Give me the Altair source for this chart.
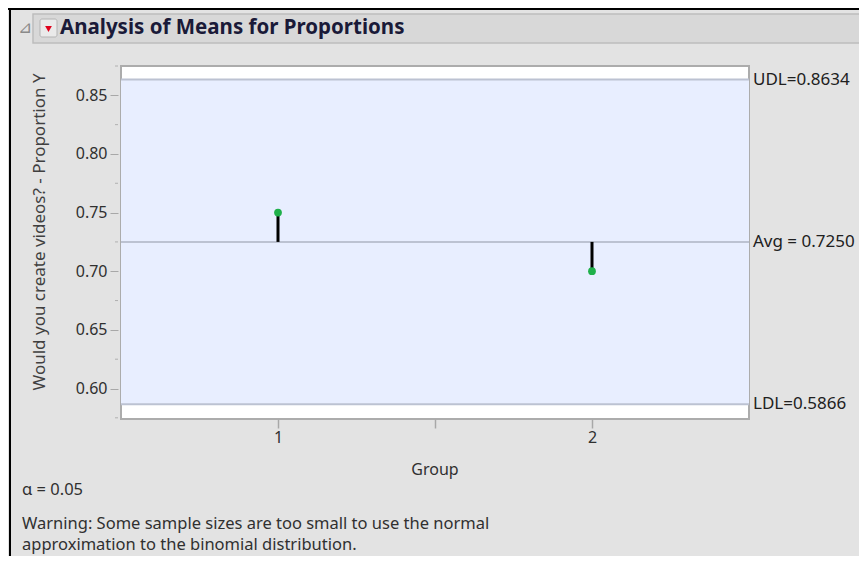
import altair as alt
import pandas as pd

# ---- data ----
groups = [1, 2]
proportions = [0.75, 0.70]
avg_value = 0.7250
udl_value = 0.8634
ldl_value = 0.5866
limit_names = ["UDL=0.8634", "Avg = 0.7250", "LDL=0.5866"]
limit_values = [udl_value, avg_value, ldl_value]
y_major_ticks = [0.60, 0.65, 0.70, 0.75, 0.80, 0.85]
y_minor_ticks = [0.575, 0.625, 0.675, 0.725, 0.775, 0.825, 0.875]
x_tick_values = [1, 1.5, 2]
y_domain = [0.574, 0.875]
x_domain = [0.5, 2.5]

title_text = "Analysis of Means for Proportions"
y_title = "Would you create videos? - Proportion Y"
x_title = "Group"
alpha_text = "\u03b1 = 0.05"
warning_lines = ["Warning: Some sample sizes are too small to use the normal",
                 "approximation to the binomial distribution."]

# ---- layout ----
W, H = 628, 353
PAD_L, PAD_T, PAD_R, PAD_B = 113, 58, 110, 137
FONT = "Noto Sans"
BG = "#e3e3e3"

pts = pd.DataFrame({"group": groups, "prop": proportions, "avg": [avg_value] * len(groups)})
lim = pd.DataFrame({"name": limit_names, "val": limit_values})
band = pd.DataFrame({"lo": [ldl_value], "hi": [udl_value]})
minor = pd.DataFrame({"v": y_minor_ticks})
one = pd.DataFrame({"a": [0]})

xs = alt.Scale(domain=x_domain, nice=False, zero=False)
ys = alt.Scale(domain=y_domain, nice=False, zero=False)

x_axis = alt.Axis(
    values=x_tick_values, title=None, grid=False, domain=False,
    labelExpr="datum.value == 1.5 ? '' : format(datum.value, 'd')",
    tickColor="#a8a8a8", tickWidth=1.5, tickSize=9, labelFontSize=16, labelFont=FONT,
    labelColor="#303030", labelPadding=1, labelBaseline="top",
)
y_axis = alt.Axis(
    values=y_major_ticks, title=None, grid=False, domain=False, offset=3,
    format=".2f", tickSize=8,
    tickColor="#a8a8a8", tickWidth=1, labelFontSize=16, labelFont=FONT,
    labelColor="#303030", labelPadding=3,
)

# header decorations (page chrome)
top_line = alt.Chart(one).mark_rect(color="#000000").encode(
    x=alt.value(-113), x2=alt.value(W + PAD_R), y=alt.value(-58), y2=alt.value(-56))
left_line = alt.Chart(one).mark_rect(color="#000000").encode(
    x=alt.value(-112), x2=alt.value(-110), y=alt.value(-58), y2=alt.value(H + PAD_B))
header = alt.Chart(one).mark_rect(fill="#d8d8d8", stroke="#bdbdbd", strokeWidth=1.5).encode(
    x=alt.value(-88), x2=alt.value(W + PAD_R + 2), y=alt.value(-52), y2=alt.value(-23))
tri = alt.Chart(one).mark_text(text="\u22bf", font="DejaVu Sans", fontSize=17,
                               color="#8a8a8a", align="center", baseline="middle").encode(
    x=alt.value(-96), y=alt.value(-38))
btn = alt.Chart(one).mark_rect(fill="#eaeaea", stroke="#b4b4b4", strokeWidth=1,
                               cornerRadius=2).encode(
    x=alt.value(-81), x2=alt.value(-64), y=alt.value(-47), y2=alt.value(-29))
btn_arrow = alt.Chart(one).mark_point(shape="triangle-down", filled=True, color="#e0001b",
                                      size=45, opacity=1).encode(
    x=alt.value(-72.5), y=alt.value(-37))
title = alt.Chart(one).mark_text(text=title_text, font=FONT, fontSize=20.5, fontWeight="bold",
                                 color="#1a1a38", align="left", baseline="middle").encode(
    x=alt.value(-61), y=alt.value(-38))

# plot content
blue = alt.Chart(band).mark_rect(color="#e8eeff").encode(
    x=alt.value(0), x2=alt.value(W),
    y=alt.Y("lo:Q", scale=ys, axis=y_axis), y2="hi:Q")
minor_ticks = alt.Chart(minor).mark_rule(color="#b0b0b0", strokeWidth=1).encode(
    y=alt.Y("v:Q", scale=ys), x=alt.value(-6), x2=alt.value(-3))
lines = alt.Chart(lim).mark_rule(color="#bcc2d2", strokeWidth=2).encode(
    y=alt.Y("val:Q", scale=ys), x=alt.value(0), x2=alt.value(W))
stems = alt.Chart(pts).mark_rule(color="#000000", strokeWidth=3).encode(
    x=alt.X("group:Q", scale=xs, axis=x_axis),
    y=alt.Y("avg:Q", scale=ys), y2="prop:Q")
dots = alt.Chart(pts).mark_circle(color="#1fb04a", opacity=1, size=60).encode(
    x=alt.X("group:Q", scale=xs), y=alt.Y("prop:Q", scale=ys))
lim_text = alt.Chart(lim).mark_text(font=FONT, fontSize=17, color="#202020",
                                    align="left", baseline="middle").encode(
    x=alt.value(W + 4), y=alt.Y("val:Q", scale=ys), text="name:N")

ytitle = alt.Chart(one).mark_text(text=y_title, font=FONT, fontSize=17, angle=270,
                                  color="#404040", align="center", baseline="middle").encode(
    x=alt.value(-81), y=alt.value(166))
xtitle = alt.Chart(one).mark_text(text=x_title, font=FONT, fontSize=16, color="#303030",
                                  align="center", baseline="middle").encode(
    x=alt.value(W / 2), y=alt.value(404))
alpha = alt.Chart(one).mark_text(text=alpha_text, font=FONT, fontSize=16.5, color="#303030",
                                 align="left", baseline="middle").encode(
    x=alt.value(-99), y=alt.value(424))
warn1 = alt.Chart(one).mark_text(text=warning_lines[0], font=FONT, fontSize=16.5, color="#303030",
                                 align="left", baseline="middle").encode(
    x=alt.value(-99), y=alt.value(458))
warn2 = alt.Chart(one).mark_text(text=warning_lines[1], font=FONT, fontSize=16.5, color="#303030",
                                 align="left", baseline="middle").encode(
    x=alt.value(-99), y=alt.value(479))

chart = alt.layer(
    top_line, left_line, header, tri, btn, btn_arrow, title,
    blue, minor_ticks, lines, stems, dots, lim_text, ytitle, xtitle, alpha, warn1, warn2,
).properties(
    width=W, height=H,
    autosize=alt.AutoSizeParams(type="none"),
    padding={"left": PAD_L, "top": PAD_T, "right": PAD_R, "bottom": PAD_B},
    background=BG,
).configure_view(
    fill="#ffffff", stroke="#acacac", strokeWidth=2,
)

chart.save("out.html", embed_options={"renderer": "svg", "actions": False})
